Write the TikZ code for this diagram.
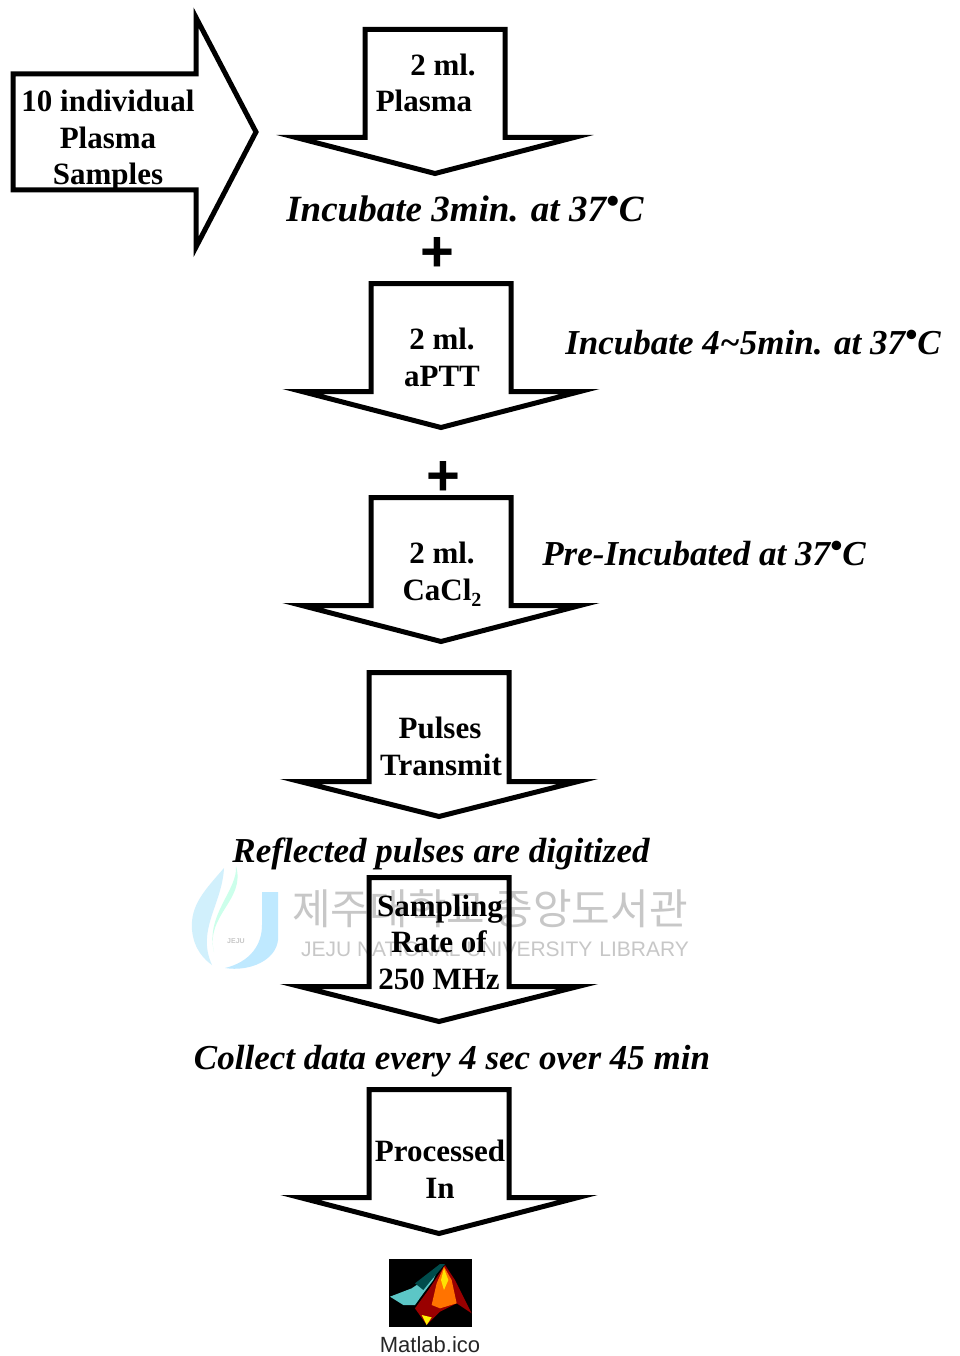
\documentclass[tikz,border=0pt]{standalone}
\usepackage{fontspec}
\setmainfont{Liberation Serif}
\newfontfamily\sansf{Liberation Sans}
\newfontfamily\krf{Noto Sans CJK KR}
\newcommand{\degb}{\raisebox{.22em}{\textbullet}}
\newcommand{\dnarrow}[8]{\draw[arrowline] (#1,#3) -- (#2,#3) -- (#2,#4) -- (#6,#4) -- (#7,#8) -- (#5,#4) -- (#1,#4) -- cycle;}
\begin{document}
\begin{tikzpicture}[x=1pt,y=-1pt,
  arrowline/.style={draw=black,line width=5pt,miter limit=10,line join=miter},
  lbl/.style={anchor=base,inner sep=0pt,font=\fontsize{31}{36}\selectfont\bfseries},
  itl/.style={anchor=base,inner sep=0pt,font=\fontsize{#1}{40}\selectfont\bfseries\itshape},
  plusn/.style={inner sep=0pt,font=\fontsize{58}{58}\selectfont\sansf\bfseries},
  wmk/.style={inner sep=0pt,text=black!22},
]
\useasboundingbox (0,0) rectangle (959,1356);
\fill[white] (0,0) rectangle (959,1356);
% watermark
\fill[blue!35!cyan!25] (262,892) -- (278,892) -- (278,940) .. controls (276,960) and (250,972) .. (225,968) .. controls (250,962) and (262,945) .. (262,925) -- cycle;
\fill[cyan!18] (224,868) .. controls (205,890) and (190,905) .. (192,930) .. controls (194,950) and (205,960) .. (212,965) .. controls (196,930) and (222,905) .. (224,868) -- cycle;
\fill[green!40!cyan!20] (236,866) .. controls (238,890) and (205,915) .. (214,952) .. controls (205,915) and (246,900) .. (236,866) -- cycle;
\node[wmk,font=\fontsize{7}{8}\selectfont\sansf\bfseries] (wmklogo) at (236,941) {JEJU};
\node[wmk,font=\fontsize{42}{42}\selectfont\krf] (wmkkr) at (490,909) {제주대학교 중앙도서관};
\node[wmk,font=\fontsize{21}{21}\selectfont\sansf] (wmken) at (495,949) {JEJU NATIONAL UNIVERSITY\,\,LIBRARY};
% left arrow
\draw[arrowline] (13,74) -- (196,74) -- (196,17.5) -- (256,132) -- (196,247) -- (196,190) -- (13,190) -- cycle;
% down arrows
\dnarrow{365}{505}{29.5}{137.5}{296}{574}{435}{173.5}
\dnarrow{371}{511}{283.5}{391.5}{302}{580}{441}{427.5}
\dnarrow{371}{511}{497.5}{605.5}{302}{580}{441}{641.5}
\dnarrow{369}{509}{672.5}{781.5}{300}{578}{439}{816.5}
\dnarrow{369}{509}{877.5}{986.5}{300}{578}{439}{1021.5}
\dnarrow{369}{509}{1089.5}{1197.5}{300}{578}{439}{1233.5}
% labels
\node[lbl] (a1) at (108,112) {10 individual};
\node[lbl] (a2) at (108,149) {Plasma};
\node[lbl] (a3) at (108,185) {Samples};
\node[lbl] (b1) at (443,76) {2 ml.};
\node[lbl] (b2) at (424,112) {Plasma};
\node[itl=37] (i1) at (465,222) {Incubate 3min. at 37\degb C};
\node[plusn] (p1) at (437,254) {+};
\node[lbl] (c1) at (442,349) {2 ml.};
\node[lbl] (c2) at (442,386) {aPTT};
\node[itl=35] (i2) at (753,354) {Incubate 4\textasciitilde 5min. at 37\degb C};
\node[plusn] (p2) at (443,478) {+};
\node[lbl] (d1) at (442,563) {2 ml.};
\node[lbl] (d2) at (442,600) {CaCl\raisebox{-.2em}{\fontsize{20}{20}\selectfont 2}};
\node[itl=35] (i3) at (704,565) {Pre-Incubated at 37\degb C};
\node[lbl] (e1) at (440,738) {Pulses};
\node[lbl] (e2) at (441,775) {Transmit};
\node[itl=35] (i4) at (441,862) {Reflected pulses are digitized};
\node[lbl] (f1) at (440,916) {Sampling};
\node[lbl] (f2) at (439,952) {Rate of};
\node[lbl] (f3) at (439,989) {250 MHz};
\node[itl=35] (i5) at (452,1069) {Collect data every 4 sec over 45 min};
\node[lbl] (g1) at (440,1161) {Processed};
\node[lbl] (g2) at (440,1198) {In};
% matlab icon
\fill[black] (389,1259) rectangle (472,1327);
\begin{scope}[shift={(340,1240)},x=.3333pt,y=-.3333pt]
\fill[teal!70!cyan!80!white!80] (150,170) -- (215,145) -- (245,125) -- (300,75) -- (280,120) -- (250,160) -- (225,195) -- (190,195) -- cycle;
\fill[teal!60!black] (225,130) -- (300,72) -- (315,72) -- (270,125) -- (250,150) -- cycle;
\fill[red!60!black] (315,75) -- (345,120) -- (395,220) -- (350,190) -- (300,215) -- (260,255) -- (225,205) -- (265,150) -- cycle;
\fill[orange!90!red] (312,80) -- (335,120) -- (350,190) -- (300,205) -- (275,195) -- (290,130) -- cycle;
\fill[yellow!85!orange] (312,85) -- (325,120) -- (312,150) -- (303,120) -- cycle;
\fill[yellow] (245,225) -- (275,232) -- (260,255) -- cycle;
\end{scope}
\node[inner sep=0pt,anchor=base,font=\fontsize{22}{24}\selectfont\sansf,text=black!85] (ml) at (430,1352) {Matlab.ico};
\end{tikzpicture}
\end{document}
